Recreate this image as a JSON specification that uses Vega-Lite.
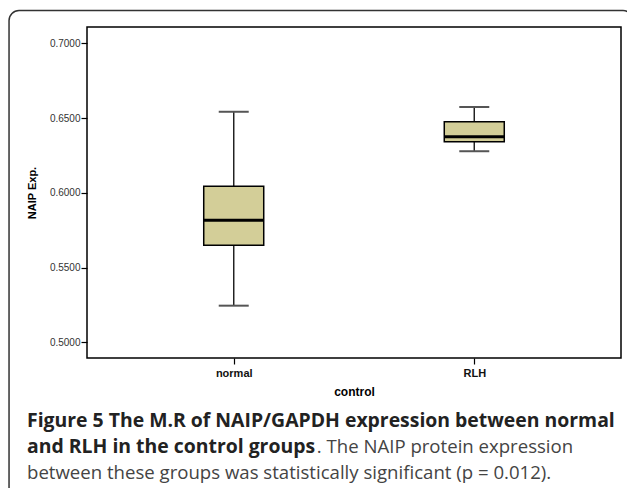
{
  "$schema": "https://vega.github.io/schema/vega-lite/v6.json",
  "width": 534,
  "height": 331,
  "autosize": {"type": "none"},
  "padding": {"left": 87, "top": 27, "right": 6, "bottom": 130},
  "background": "white",
  "config": {"view": {"stroke": "#000", "strokeWidth": 1.5}},
  "title": {
    "text": ["Figure 5 The M.R of NAIP/GAPDH expression between normal", "and RLH in the control groups"],
    "subtitle": ["\u200b\u00a0\u00a0\u00a0\u00a0\u00a0\u00a0\u00a0\u00a0\u00a0\u00a0\u00a0\u00a0\u00a0\u00a0\u00a0\u00a0\u00a0\u00a0\u00a0\u00a0\u00a0\u00a0\u00a0\u00a0\u00a0\u00a0\u00a0\u00a0\u00a0\u00a0\u00a0\u00a0\u00a0\u00a0\u00a0\u00a0\u00a0\u00a0\u00a0\u00a0\u00a0\u00a0\u00a0\u00a0\u00a0\u00a0\u00a0\u00a0\u00a0\u00a0\u00a0\u00a0\u00a0\u00a0\u00a0\u00a0\u00a0\u00a0\u00a0\u00a0. The NAIP protein expression", "between these groups was statistically significant (p = 0.012)."],
    "orient": "bottom",
    "anchor": "start",
    "frame": "group",
    "dx": -60,
    "offset": -89,
    "font": "Open Sans",
    "fontSize": 19.4,
    "fontWeight": "bold",
    "color": "#222",
    "lineHeight": 26,
    "subtitleFont": "Open Sans",
    "subtitleFontSize": 18.6,
    "subtitleFontWeight": "normal",
    "subtitleColor": "#444",
    "subtitleLineHeight": 26,
    "subtitlePadding": -19.4
  },
  "data": {
    "values": [
      {"group": "normal", "lo": 0.5245, "q1": 0.5649, "med": 0.5816, "q3": 0.6044, "hi": 0.6542},
      {"group": "RLH", "lo": 0.6278, "q1": 0.6342, "med": 0.6375, "q3": 0.6476, "hi": 0.6574}
    ]
  },
  "layer": [
    {
      "data": {"values": [{}]},
      "mark": {"type": "rect", "fillOpacity": 0, "stroke": "#333", "strokeWidth": 1.5, "cornerRadius": 10},
      "encoding": {
        "x": {"datum": -0.146, "type": "quantitative", "scale": {"domain": [0, 1], "nice": false}, "axis": null},
        "x2": {"datum": 1.0225},
        "y": {"datum": 1.0498, "type": "quantitative", "scale": {"domain": [0, 1], "nice": false}, "axis": null},
        "y2": {"datum": -0.43}
      }
    },
    {
      "encoding": {
        "x": {
          "field": "group",
          "type": "nominal",
          "scale": {"type": "point", "padding": 0.61, "domain": ["normal", "RLH"]},
          "axis": {
            "title": "control",
            "labelAngle": 0,
            "domain": false,
            "tickSize": 6,
            "tickColor": "#000",
            "tickWidth": 1.2,
            "labelFont": "Liberation Sans",
            "labelFontSize": 11,
            "labelFontWeight": "bold",
            "labelColor": "#111",
            "labelPadding": 3,
            "titleFont": "Liberation Sans",
            "titleFontSize": 12,
            "titleFontWeight": "bold",
            "titleColor": "#000",
            "titlePadding": 8
          }
        }
      },
      "layer": [
        {
          "mark": {"type": "rule", "color": "#222", "strokeWidth": 1.5},
          "encoding": {
            "y": {
              "field": "lo",
              "type": "quantitative",
              "scale": {"domain": [0.4895, 0.7109], "nice": false, "zero": false},
              "axis": {
                "title": "NAIP Exp.",
                "values": [0.5, 0.55, 0.6, 0.65, 0.7],
                "format": ".4f",
                "domain": false,
                "grid": false,
                "tickSize": 6,
                "tickColor": "#000",
                "tickWidth": 1.2,
                "labelFont": "Liberation Sans",
                "labelFontSize": 10,
                "labelColor": "#333",
                "labelPadding": 1,
                "titleFont": "Liberation Sans",
                "titleFontSize": 11,
                "titleFontWeight": "bold",
                "titleColor": "#000",
                "titlePadding": 12
              }
            },
            "y2": {"field": "hi"}
          }
        },
        {
          "mark": {"type": "bar", "width": 60, "fill": "#d3ce98", "stroke": "#000", "strokeWidth": 1.5},
          "encoding": {"y": {"field": "q1", "type": "quantitative"}, "y2": {"field": "q3"}}
        },
        {
          "mark": {"type": "tick", "size": 60, "thickness": 3, "color": "#000", "opacity": 1},
          "encoding": {"y": {"field": "med", "type": "quantitative"}}
        },
        {
          "mark": {"type": "tick", "size": 30, "thickness": 2, "color": "#555", "opacity": 1},
          "encoding": {"y": {"field": "hi", "type": "quantitative"}}
        },
        {
          "mark": {"type": "tick", "size": 30, "thickness": 2, "color": "#555", "opacity": 1},
          "encoding": {"y": {"field": "lo", "type": "quantitative"}}
        }
      ]
    }
  ],
  "resolve": {"scale": {"x": "independent", "y": "independent"}}
}
